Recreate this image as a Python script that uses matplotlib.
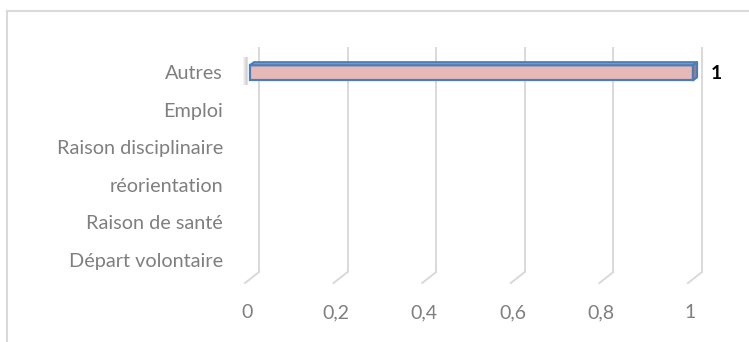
import matplotlib
matplotlib.use("Agg")
import matplotlib.pyplot as plt
from matplotlib.transforms import ScaledTranslation
from matplotlib.patches import Polygon
from matplotlib.lines import Line2D

# Chart data (top to bottom)
categories = ["Autres", "Emploi", "Raison disciplinaire", "réorientation",
              "Raison de santé", "Départ volontaire"]
values = [1, 0, 0, 0, 0, 0]
x_ticks = [0, 0.2, 0.4, 0.6, 0.8, 1.0]
x_tick_labels = ["0", "0,2", "0,4", "0,6", "0,8", "1"]

W, H, DPI = 749, 342, 100
FONT = "Lato"
TEXT_GREY = "#7f7f7f"
GRID = "#d9d9d9"
FACE_FRONT = "#e6b9b8"
FACE_TOP = "#c49a9a"
FACE_SIDE = "#a97f80"
EDGE = "#4a7ebb"

fig = plt.figure(figsize=(W / DPI, H / DPI), dpi=DPI)
fig.patch.set_facecolor("white")

# Back wall of the 3-D plot area
ax = fig.add_axes([259 / W, (H - 272) / H, (702 - 259) / W, (272 - 47) / H])
n = len(categories)
ax.set_xlim(0, 1)
ax.set_ylim(n - 0.5, -0.5)
ax.axis("off")


def shift(dx, dy):
    """Offset in pixels, dy positive downwards."""
    return ScaledTranslation(dx / DPI, -dy / DPI, fig.dpi_scale_trans)


# depth offsets (pixels) from the back wall
FLOOR = (-14, 11)
BAR_FRONT = (-9, 7)
BAR_BACK = (-5, 4)

# Gridlines: vertical on the back wall plus a diagonal across the floor
xt = ax.get_xaxis_transform()
for t, lab in zip(x_ticks, x_tick_labels):
    ax.plot([t, t], [0, 1], transform=xt, color=GRID, lw=1.4,
            solid_capstyle="butt", zorder=1, clip_on=False)
    bx, by = xt.transform((t, 0))
    fig.add_artist(Line2D([bx, bx + FLOOR[0]], [by, by - FLOOR[1]],
                          transform=None, color=GRID, lw=1.4, zorder=-1))
    ax.text(t, 0, lab, transform=xt + shift(-12, 41), ha="center",
            va="center", color=TEXT_GREY, fontsize=14, family=FONT)

# Category labels
for i, cat in enumerate(categories):
    ax.text(0, i, cat, transform=ax.transData + shift(-36, 8), ha="right",
            va="center", color=TEXT_GREY, fontsize=14.3, family=FONT)

# Soft shadow at the left end of the bars
to_px = ax.transData.transform
bar_h = 0.4
ys = list(range(n))
for y, v in zip(ys, values):
    if v <= 0:
        continue
    sx, sy_top = to_px((0, y - bar_h / 2))
    _, sy_bot = to_px((0, y + bar_h / 2))
    for k, a in enumerate([0.10, 0.18, 0.28, 0.35, 0.25]):
        x0 = sx - 16 + k
        fig.add_artist(Polygon([(x0, sy_top + 1), (x0 + 1, sy_top + 1),
                                (x0 + 1, sy_bot - 12), (x0, sy_bot - 12)],
                               closed=True, transform=None,
                               facecolor="#808080", edgecolor="none",
                               alpha=a, zorder=-1))

# 3-D bars: front face drawn by barh, top and side faces derived from it
lws = [1.6 if v > 0 else 0 for v in values]
ax.barh(ys, values, height=bar_h, left=0, color=FACE_FRONT, edgecolor=EDGE,
        linewidth=lws, transform=ax.transData + shift(*BAR_FRONT),
        clip_on=False, zorder=4)

for y, v in zip(ys, values):
    if v <= 0:
        continue
    lx, ty = to_px((0, y - bar_h / 2))
    rx, _ = to_px((v, y - bar_h / 2))
    _, byy = to_px((v, y + bar_h / 2))
    f = (BAR_FRONT[0], -BAR_FRONT[1])
    b = (BAR_BACK[0], -BAR_BACK[1])
    top_face = [(lx + f[0], ty + f[1]), (rx + f[0], ty + f[1]),
                (rx + b[0], ty + b[1]), (lx + b[0], ty + b[1])]
    side_face = [(rx + f[0], ty + f[1]), (rx + b[0], ty + b[1]),
                 (rx + b[0], byy + b[1]), (rx + f[0], byy + f[1])]
    for pts, col in ((top_face, FACE_TOP), (side_face, FACE_SIDE)):
        fig.add_artist(Polygon(pts, closed=True, transform=None,
                               facecolor=col, edgecolor=EDGE, lw=1.6,
                               joinstyle="round", zorder=3))
    # value label
    ax.text(v, y, f"{v:g}", transform=ax.transData + shift(9, 8),
            ha="left", va="center", color="black", fontsize=14,
            fontweight="bold", family=FONT)

# Chart-area frame (top and left edges)
fig.add_artist(Line2D([6.5, 6.5], [0, H - 11], transform=None,
                      color=GRID, lw=1.5))
fig.add_artist(Line2D([6.5, W], [H - 11, H - 11], transform=None,
                      color=GRID, lw=1.5))

fig.savefig("out.png", dpi=DPI, facecolor="white")
